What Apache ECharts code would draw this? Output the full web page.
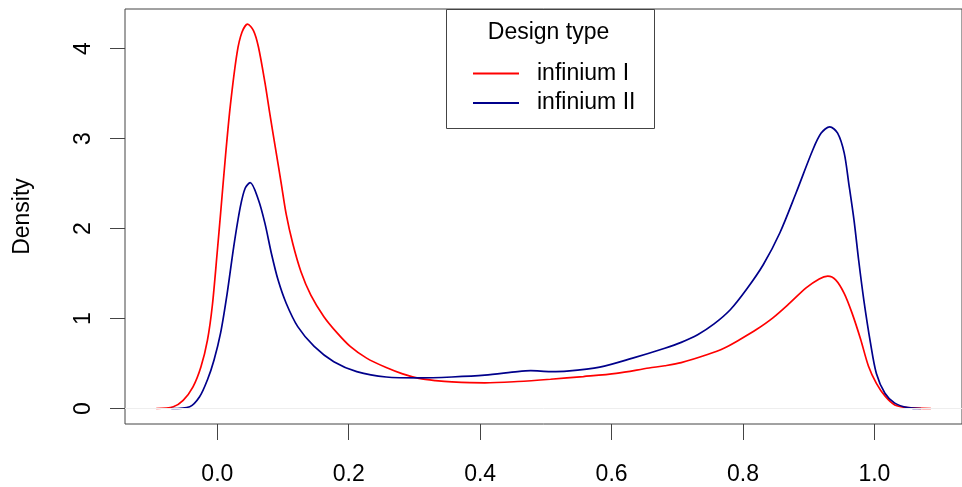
<!DOCTYPE html>
<html>
<head>
<meta charset="utf-8">
<script src="https://cdn.jsdelivr.net/npm/echarts@6/dist/echarts.min.js"></script>
<style>
  html, body { margin: 0; padding: 0; background: #ffffff; }
  #chart { width: 962px; height: 487px; }
</style>
</head>
<body>
<div id="chart"></div>
<script>
// ---- data ----
const seriesNames = ['infinium I', 'infinium II'];
const legendTitle = 'Design type';
const yAxisTitle = 'Density';

const xTicks = [0.0, 0.2, 0.4, 0.6, 0.8, 1.0];
const yTicks = [0, 1, 2, 3, 4];

const redX = [-0.093, -0.067, -0.052, -0.037, -0.025, -0.015, -0.0075, 0.0, 0.005, 0.0126, 0.020, 0.030, 0.0375, 0.046,
  0.055, 0.0625, 0.0725, 0.080, 0.0899, 0.0973, 0.1048, 0.1149, 0.1273, 0.1423, 0.1622, 0.1823, 0.2022, 0.2272,
  0.257, 0.282, 0.307, 0.332, 0.357, 0.407, 0.457, 0.507, 0.557, 0.607, 0.657, 0.681, 0.706, 0.746, 0.771,
  0.796, 0.821, 0.846, 0.871, 0.896, 0.916, 0.929, 0.941, 0.954, 0.966, 0.979, 0.991, 1.003, 1.016, 1.031, 1.051, 1.086];
const redY = [0.0, 0.02, 0.09, 0.24, 0.46, 0.76, 1.15, 1.75, 2.17, 2.82, 3.38, 3.95, 4.18, 4.27,
  4.20, 4.02, 3.62, 3.27, 2.83, 2.50, 2.16, 1.83, 1.52, 1.26, 1.02, 0.84, 0.69, 0.56,
  0.455, 0.385, 0.335, 0.31, 0.295, 0.285, 0.30, 0.325, 0.355, 0.39, 0.45, 0.475, 0.51, 0.60, 0.67,
  0.77, 0.88, 1.01, 1.17, 1.34, 1.44, 1.47, 1.43, 1.28, 1.06, 0.77, 0.47, 0.28, 0.14, 0.04, 0.01, 0.0];

const blueX = [-0.070, -0.042, -0.027, -0.015, -0.005, 0.005, 0.015, 0.025, 0.035, 0.0425, 0.050, 0.0625, 0.0724,
  0.0824, 0.0924, 0.1048, 0.1224, 0.1474, 0.1773, 0.2122, 0.257, 0.307, 0.357, 0.407, 0.457, 0.477, 0.507, 0.532,
  0.582, 0.632, 0.681, 0.706, 0.731, 0.756, 0.781, 0.806, 0.831, 0.856, 0.881, 0.906, 0.919, 0.932, 0.944, 0.954,
  0.961, 0.969, 0.976, 0.984, 0.994, 1.003, 1.016, 1.031, 1.051, 1.071];
const blueY = [0.0, 0.02, 0.13, 0.32, 0.54, 0.84, 1.28, 1.80, 2.24, 2.45, 2.51, 2.32, 2.06,
  1.72, 1.43, 1.17, 0.91, 0.69, 0.52, 0.41, 0.35, 0.34, 0.35, 0.37, 0.41, 0.42, 0.41, 0.415,
  0.46, 0.56, 0.67, 0.735, 0.82, 0.94, 1.10, 1.33, 1.60, 1.95, 2.40, 2.87, 3.06, 3.13, 3.06, 2.84,
  2.50, 2.09, 1.65, 1.20, 0.73, 0.39, 0.17, 0.06, 0.01, 0.0];

const FONT = 'Liberation Sans, Arial, Helvetica, sans-serif';
const AXIS_COLOR = '#444444';

function pairs(xs, ys) { return xs.map((x, i) => [x, ys[i]]); }

const chart = echarts.init(document.getElementById('chart'), null, { renderer: 'canvas' });
chart.setOption({
  animation: false,
  backgroundColor: '#ffffff',
  textStyle: { fontFamily: FONT },
  grid: {
    left: 125, top: 9, width: 850, height: 415,
    show: true, borderColor: AXIS_COLOR, borderWidth: 1, backgroundColor: 'transparent'
  },
  xAxis: {
    type: 'value',
    min: -0.1405, max: 1.1333,
    axisLine: { show: false, onZero: false },
    splitLine: { show: false },
    axisTick: { show: true, inside: false, length: 16, customValues: xTicks, lineStyle: { color: AXIS_COLOR, width: 1 } },
    axisLabel: {
      show: true, customValues: xTicks, margin: 39,
      fontSize: 23, color: '#000000', fontFamily: FONT,
      formatter: v => v.toFixed(1)
    }
  },
  yAxis: {
    type: 'value',
    min: -0.172, max: 4.439,
    name: yAxisTitle, nameLocation: 'middle', nameGap: 91,
    nameTextStyle: { fontSize: 23, color: '#000000', fontFamily: FONT },
    axisLine: { show: false, onZero: false },
    splitLine: { show: false },
    axisTick: { show: true, inside: false, length: 15, customValues: yTicks, lineStyle: { color: AXIS_COLOR, width: 1 } },
    axisLabel: {
      show: true, customValues: yTicks, margin: 30, rotate: 90,
      fontSize: 23, color: '#000000', fontFamily: FONT,
      formatter: v => String(v)
    }
  },
  legend: {
    data: [
      { name: seriesNames[0], icon: 'rect', itemStyle: { color: '#ff0000' } },
      { name: seriesNames[1], icon: 'rect', itemStyle: { color: '#00008b' } }
    ],
    orient: 'vertical',
    left: 468, top: 57,
    itemWidth: 46, itemHeight: 2, itemGap: 6.6,
    textStyle: { fontSize: 23, color: '#000000', fontFamily: FONT, padding: [0, 0, 0, 13] },
    selectedMode: false
  },
  graphic: [
    {
      type: 'rect', left: 446, top: 9, z: 100,
      shape: { width: 208, height: 119 },
      style: { fill: 'transparent', stroke: AXIS_COLOR, lineWidth: 1 }
    },
    {
      type: 'text', z: 100,
      x: 548.5, y: 33,
      style: { text: legendTitle, font: '23px ' + FONT, fill: '#000000', align: 'center', verticalAlign: 'middle' }
    }
  ],
  series: [
    {
      name: seriesNames[0], type: 'line', data: pairs(redX, redY),
      symbol: 'none', smooth: 0.3,
      lineStyle: { color: '#ff0000', width: 1.7 }, itemStyle: { color: '#ff0000' },
      z: 2,
      markLine: {
        silent: true, symbol: 'none', label: { show: false },
        lineStyle: { color: '#eeeeee', width: 1, type: 'solid' },
        data: [{ yAxis: 0 }]
      }
    },
    {
      name: seriesNames[1], type: 'line', data: pairs(blueX, blueY),
      symbol: 'none', smooth: 0.3,
      lineStyle: { color: '#00008b', width: 1.7 }, itemStyle: { color: '#00008b' },
      z: 3
    }
  ]
});
</script>
</body>
</html>
